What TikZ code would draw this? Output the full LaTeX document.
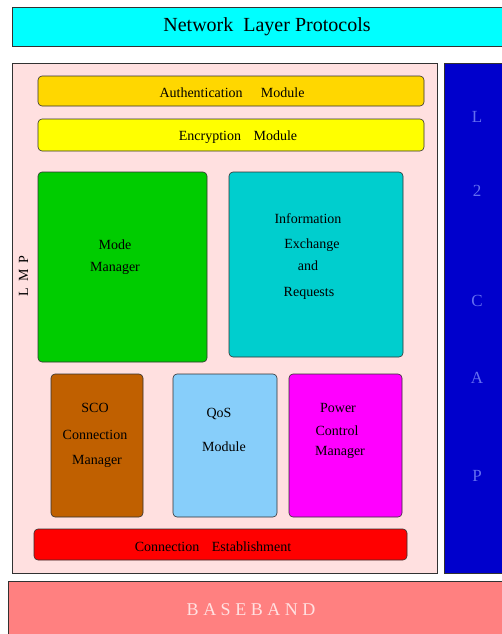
\documentclass[tikz,border=0pt]{standalone}
\usepackage{fontspec}
\setmainfont{Liberation Serif}
\definecolor{netcyan}{RGB}{0,255,255}
\definecolor{lmppink}{RGB}{255,224,224}
\definecolor{l2blue}{RGB}{0,0,204}
\definecolor{l2text}{RGB}{100,110,240}
\definecolor{basered}{RGB}{255,128,128}
\definecolor{basetext}{RGB}{255,225,225}
\definecolor{authgold}{RGB}{255,215,0}
\definecolor{encyellow}{RGB}{255,255,0}
\definecolor{modegreen}{RGB}{0,204,0}
\definecolor{infoteal}{RGB}{0,206,206}
\definecolor{scobrown}{RGB}{192,96,0}
\definecolor{qosblue}{RGB}{135,206,250}
\definecolor{pwrmagenta}{RGB}{255,0,255}
\definecolor{connred}{RGB}{255,0,0}
\definecolor{edgegray}{RGB}{50,50,50}
\begin{document}
\begin{tikzpicture}[x=1pt,y=-1pt,
  layer/.style={draw=edgegray,line width=0.8pt,rectangle,inner sep=0},
  module/.style={draw=edgegray,line width=0.6pt,rectangle,rounded corners=4pt,inner sep=0},
  lbl/.style={font=\fontsize{14}{16}\selectfont,anchor=base,inner sep=0},
  biglbl/.style={font=\fontsize{20}{22}\selectfont,anchor=base,inner sep=0},
  l2lbl/.style={font=\fontsize{17}{19}\selectfont,anchor=base,inner sep=0,text=l2text}]
\useasboundingbox (0,0) rectangle (502,634);

% outer layers
\node[layer,fill=netcyan,minimum width=493pt,minimum height=39pt] (net) at (258.5,26.5) {};
\node[biglbl] (net-t) at (267,32) {Network\hspace{0.5em}Layer Protocols};

\node[layer,fill=lmppink,minimum width=425pt,minimum height=510pt] (lmp) at (224.5,318) {};
\node[lbl,rotate=90,anchor=base] (lmp-t) at (28,276) {L\hspace{6pt}M\hspace{6pt}P};

\node[layer,fill=l2blue,minimum width=61pt,minimum height=510pt] (l2cap) at (474.5,318) {};
\node[l2lbl] (l2-1) at (477,122.5) {L};
\node[l2lbl] (l2-2) at (477,196.5) {2};
\node[l2lbl] (l2-3) at (477,306.5) {C};
\node[l2lbl] (l2-4) at (477,383) {A};
\node[l2lbl] (l2-5) at (477,481.5) {P};

\node[layer,fill=basered,minimum width=497pt,minimum height=59pt] (base) at (256.5,610.5) {};
\node[font=\fontsize{18}{20}\selectfont,anchor=base,inner sep=0,text=basetext] (base-t) at (251,615) {B A S E B A N D};

% LMP modules
\node[module,fill=authgold,minimum width=386pt,minimum height=30pt] (auth) at (231,91) {};
\node[lbl] (auth-t) at (232,97.5) {Authentication\hspace{1.3em}Module};

\node[module,fill=encyellow,minimum width=386pt,minimum height=32pt] (enc) at (231,135) {};
\node[lbl] (enc-t) at (238,140) {Encryption\hspace{0.9em}Module};

\node[module,fill=modegreen,minimum width=169pt,minimum height=190pt] (mode) at (122.5,267) {};
\node[lbl] (mode-1) at (115,249) {Mode};
\node[lbl] (mode-2) at (115,271) {Manager};

\node[module,fill=infoteal,minimum width=174pt,minimum height=185pt] (info) at (316,264.5) {};
\node[lbl] (info-1) at (308,223) {Information};
\node[lbl] (info-2) at (312,248) {Exchange};
\node[lbl] (info-3) at (308,270) {and};
\node[lbl] (info-4) at (309,296) {Requests};

\node[module,fill=scobrown,minimum width=92pt,minimum height=143pt] (sco) at (97,445.5) {};
\node[lbl] (sco-1) at (95,412.5) {SCO};
\node[lbl] (sco-2) at (95,439) {Connection};
\node[lbl] (sco-3) at (97,464) {Manager};

\node[module,fill=qosblue,minimum width=104pt,minimum height=143pt] (qos) at (225,445.5) {};
\node[lbl] (qos-1) at (219,417) {QoS};
\node[lbl] (qos-2) at (224,451.5) {Module};

\node[module,fill=pwrmagenta,minimum width=113pt,minimum height=143pt] (pwr) at (345.5,445.5) {};
\node[lbl] (pwr-1) at (338,412.5) {Power};
\node[lbl] (pwr-2) at (337,435) {Control};
\node[lbl] (pwr-3) at (340,455.5) {Manager};

\node[module,fill=connred,minimum width=373pt,minimum height=31pt] (conn) at (220.5,544.5) {};
\node[lbl] (conn-t) at (213,551) {Connection\hspace{0.9em}Establishment};
\end{tikzpicture}
\end{document}
